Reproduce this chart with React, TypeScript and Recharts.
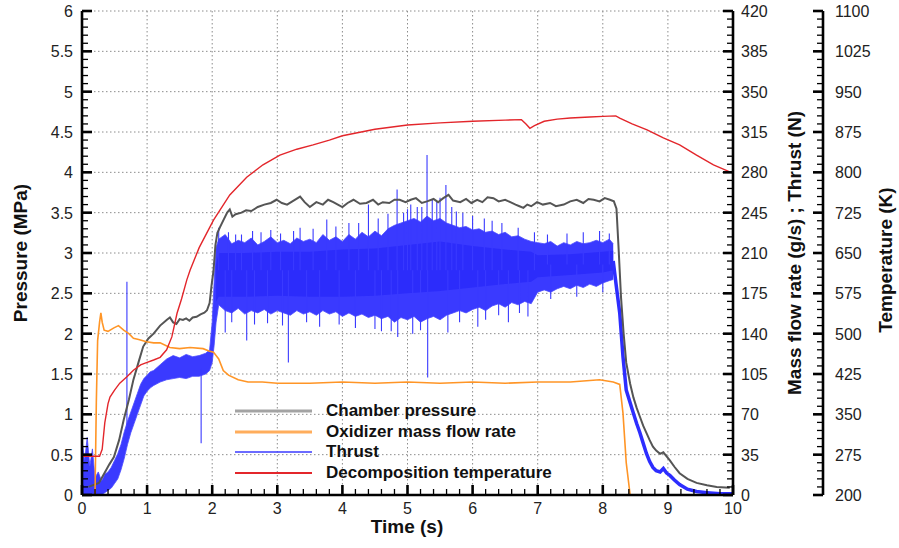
import React from 'react'
import { Area, CartesianGrid, ComposedChart, Line, XAxis, YAxis } from 'recharts'

// tick labels
const timeMajor = [0, 1, 2, 3, 4, 5, 6, 7, 8, 9, 10]
const pressureMajor = [0, 0.5, 1, 1.5, 2, 2.5, 3, 3.5, 4, 4.5, 5, 5.5, 6]
const flowMajor = [0, 35, 70, 105, 140, 175, 210, 245, 280, 315, 350, 385, 420]
const tempMajor = [200, 275, 350, 425, 500, 575, 650, 725, 800, 875, 950, 1025, 1100]

// chamber pressure (MPa)
const pressureTime = [0.1, 0.26, 0.35, 0.42, 0.49, 0.57, 0.64, 0.72, 0.79, 0.87, 0.94, 1.02, 1.1, 1.2, 1.3, 1.35, 1.4, 1.45, 1.5, 1.55, 1.6, 1.65, 1.7, 1.76, 1.82, 1.88, 1.92, 1.96, 1.99, 2.02, 2.05, 2.08, 2.12, 2.18, 2.23, 2.27, 2.31, 2.36, 2.45, 2.52, 2.6, 2.7, 2.8, 2.9, 2.99, 3.07, 3.15, 3.25, 3.35, 3.42, 3.5, 3.6, 3.7, 3.78, 3.86, 3.93, 4.0, 4.08, 4.17, 4.27, 4.37, 4.47, 4.55, 4.62, 4.72, 4.8, 4.88, 4.97, 5.05, 5.13, 5.22, 5.3, 5.4, 5.47, 5.55, 5.63, 5.7, 5.81, 5.9, 5.98, 6.07, 6.15, 6.23, 6.32, 6.4, 6.5, 6.58, 6.66, 6.72, 6.78, 6.84, 6.9, 6.99, 7.08, 7.19, 7.28, 7.4, 7.5, 7.6, 7.7, 7.78, 7.86, 7.95, 8.03, 8.11, 8.17, 8.21, 8.24, 8.28, 8.32, 8.36, 8.42, 8.47, 8.52, 8.57, 8.62, 8.67, 8.72, 8.77, 8.82, 8.88, 8.93, 8.98, 9.03, 9.1, 9.18, 9.3, 9.44, 9.6, 9.75, 9.95]
const pressureValue = [0.1, 0.15, 0.28, 0.38, 0.47, 0.68, 0.93, 1.18, 1.43, 1.65, 1.84, 1.94, 2.0, 2.1, 2.17, 2.2, 2.14, 2.12, 2.18, 2.17, 2.19, 2.16, 2.2, 2.21, 2.24, 2.26, 2.29, 2.38, 2.6, 2.78, 3.1, 3.25, 3.32, 3.42, 3.5, 3.54, 3.45, 3.48, 3.5, 3.53, 3.52, 3.57, 3.6, 3.62, 3.66, 3.62, 3.6, 3.65, 3.7, 3.63, 3.57, 3.63, 3.6, 3.66, 3.63, 3.6, 3.57, 3.62, 3.66, 3.61, 3.62, 3.66, 3.6, 3.63, 3.62, 3.66, 3.66, 3.63, 3.66, 3.68, 3.62, 3.64, 3.67, 3.63, 3.68, 3.72, 3.65, 3.63, 3.67, 3.62, 3.66, 3.63, 3.69, 3.68, 3.64, 3.66, 3.63, 3.6, 3.58, 3.56, 3.6, 3.58, 3.63, 3.6, 3.62, 3.58, 3.6, 3.64, 3.66, 3.62, 3.67, 3.66, 3.64, 3.68, 3.66, 3.64, 3.55, 3.1, 2.45, 2.0, 1.64, 1.38, 1.21, 1.08, 0.97, 0.86, 0.77, 0.68, 0.6, 0.55, 0.51, 0.53, 0.48, 0.43, 0.35, 0.27, 0.2, 0.15, 0.12, 0.1, 0.09]

// oxidizer mass flow rate (g/s)
const flowTime = [0, 0.2, 0.22, 0.24, 0.27, 0.29, 0.31, 0.34, 0.4, 0.49, 0.56, 0.64, 0.72, 0.79, 0.87, 0.99, 1.1, 1.2, 1.35, 1.5, 1.66, 1.86, 1.95, 2.02, 2.1, 2.17, 2.25, 2.4, 2.55, 2.77, 3.0, 3.5, 4.0, 4.5, 5.0, 5.5, 6.0, 6.5, 7.0, 7.5, 7.95, 8.16, 8.26, 8.31, 8.36, 8.42, 10]
const flowValue = [0, 0, 80, 134, 150, 158, 150, 143, 142, 145, 147, 143, 140, 136, 135, 133, 132, 132, 128, 127, 128, 127, 125, 124, 118, 108, 104, 100, 98, 98, 97, 97, 98, 97, 98, 97, 98, 97, 98, 98, 100, 98, 96, 71, 28, 0, 0]

// decomposition temperature (K)
const tempTime = [0, 0.27, 0.31, 0.35, 0.4, 0.43, 0.5, 0.58, 0.69, 0.79, 0.9, 0.99, 1.1, 1.2, 1.3, 1.38, 1.46, 1.53, 1.61, 1.66, 1.8, 2.02, 2.27, 2.53, 2.78, 3.04, 3.3, 3.55, 3.8, 4.0, 4.5, 5.0, 5.5, 6.0, 6.5, 6.75, 6.82, 6.88, 6.95, 7.1, 7.3, 7.5, 7.8, 8.0, 8.2, 8.26, 8.45, 8.68, 8.93, 9.18, 9.44, 9.7, 9.95, 10]
const tempValue = [272, 272, 285, 334, 370, 382, 395, 408, 420, 432, 442, 446, 451, 456, 470, 494, 538, 565, 600, 618, 660, 711, 758, 791, 814, 832, 843, 851, 860, 868, 880, 888, 892, 895, 897, 898, 890, 882, 887, 895, 899, 901, 903, 904, 905, 901, 890, 879, 864, 851, 832, 814, 801, 799]

// thrust (N): noisy band, read as low / high envelope
const thrustTime = [0, 0.04, 0.08, 0.12, 0.16, 0.2, 0.25, 0.3, 0.35, 0.4, 0.45, 0.5, 0.55, 0.6, 0.65, 0.7, 0.75, 0.8, 0.85, 0.9, 0.95, 1.0, 1.05, 1.1, 1.2, 1.3, 1.4, 1.5, 1.6, 1.7, 1.8, 1.9, 1.96, 2.0, 2.03, 2.06, 2.1, 2.2, 2.3, 2.4, 2.5, 2.6, 2.7, 2.8, 2.9, 3.0, 3.1, 3.2, 3.3, 3.4, 3.5, 3.6, 3.7, 3.8, 3.9, 4.0, 4.1, 4.2, 4.3, 4.4, 4.5, 4.6, 4.7, 4.8, 4.9, 5.0, 5.1, 5.2, 5.3, 5.4, 5.5, 5.6, 5.7, 5.8, 5.9, 6.0, 6.1, 6.2, 6.3, 6.4, 6.5, 6.6, 6.7, 6.8, 6.9, 7.0, 7.1, 7.2, 7.3, 7.4, 7.5, 7.6, 7.7, 7.8, 7.9, 8.0, 8.1, 8.16]
const thrustLow = [0, 0, 0, 0, 0, 0, 0, 0, 2, 4, 6, 10, 14, 22, 32, 44, 54, 62, 70, 78, 86, 90, 93, 95, 98, 100, 101, 102, 101, 103, 103, 105, 108, 115, 130, 150, 165, 160, 158, 162, 157, 160, 158, 161, 157, 160, 158, 156, 160, 157, 159, 156, 160, 157, 159, 155, 158, 155, 157, 154, 156, 153, 155, 150, 154, 152, 155, 150, 153, 155, 152, 156, 158, 160, 158, 161, 163, 160, 164, 166, 163, 167, 165, 168, 166, 176, 178, 176, 179, 181, 179, 182, 180, 183, 181, 184, 186, 187]
const thrustHigh = [48, 30, 50, 25, 40, 15, 20, 12, 18, 20, 24, 30, 36, 44, 55, 64, 72, 80, 88, 96, 101, 104, 107, 108, 113, 118, 121, 119, 122, 120, 121, 123, 126, 150, 185, 215, 222, 226, 218, 221, 219, 223, 217, 220, 224, 219, 221, 218, 223, 220, 222, 219, 226, 221, 224, 220, 226, 222, 228, 224, 229, 225, 231, 234, 236, 238, 240, 237, 242, 238, 240, 236, 234, 232, 233, 230, 231, 228, 229, 226, 228, 224, 225, 222, 220, 219, 218, 220, 216, 219, 217, 220, 218, 219, 221, 219, 222, 218]

// thrust dense core
const coreTime = [2.06, 2.1, 2.5, 3.0, 3.5, 4.0, 4.5, 5.0, 5.5, 6.0, 6.5, 6.9, 7.0, 7.5, 8.0, 8.16]
const coreLow = [168, 172, 172, 173, 172, 172, 173, 175, 177, 180, 183, 185, 189, 191, 193, 195]
const coreHigh = [200, 210, 210, 211, 211, 213, 214, 217, 220, 216, 213, 211, 208, 209, 211, 212]

// thrust isolated spikes: time, level they leave from, extreme value
const spikeTime = [0.69, 1.83, 2.1, 2.2, 2.25, 2.3, 2.36, 2.45, 2.53, 2.62, 2.65, 2.75, 2.85, 2.9, 3.05, 3.08, 3.17, 3.25, 3.35, 3.45, 3.55, 3.65, 3.76, 3.9, 3.95, 4.1, 4.2, 4.25, 4.4, 4.5, 4.55, 4.6, 4.7, 4.75, 4.84, 4.85, 4.94, 5.0, 5.05, 5.08, 5.15, 5.2, 5.22, 5.3, 5.31, 5.38, 5.45, 5.5, 5.59, 5.62, 5.68, 5.75, 5.8, 5.85, 6.0, 6.08, 6.18, 6.2, 6.3, 6.4, 6.45, 6.55, 6.7, 6.72, 6.85, 6.95, 7.15, 7.2, 7.45, 7.6, 7.7, 7.95, 8.0, 8.1]
const spikeBase = [60, 110, 195, 195, 195, 195, 195, 195, 195, 195, 195, 195, 195, 195, 195, 195, 195, 195, 195, 195, 195, 195, 195, 195, 195, 195, 195, 195, 195, 195, 195, 195, 195, 195, 195, 195, 195, 195, 195, 195, 195, 195, 195, 195, 195, 195, 195, 195, 195, 195, 195, 195, 195, 195, 195, 195, 195, 195, 195, 195, 195, 195, 195, 195, 195, 195, 200, 200, 200, 200, 200, 200, 200, 200]
const spikePeak = [185, 45, 232, 141, 228, 150, 226, 226, 134, 229, 148, 228, 149, 230, 227, 147, 115, 229, 232, 150, 231, 146, 239, 233, 148, 236, 145, 236, 252, 144, 240, 142, 244, 142, 265, 137, 245, 248, 252, 140, 250, 143, 250, 295, 102, 256, 255, 258, 269, 141, 250, 246, 150, 245, 242, 146, 240, 152, 238, 156, 236, 150, 232, 158, 155, 228, 226, 170, 227, 172, 228, 229, 176, 227]

// thrust tail after shutdown
const tailTime = [8.16, 8.21, 8.26, 8.31, 8.36, 8.42, 8.47, 8.52, 8.57, 8.62, 8.67, 8.72, 8.77, 8.82, 8.88, 8.93, 8.98, 9.03, 9.1, 9.18, 9.3, 9.44, 9.6, 9.8, 10]
const tailValue = [203, 180, 158, 120, 91, 80, 71, 62, 54, 45, 36, 29, 24, 21, 20, 23, 19, 17, 13, 9, 5, 3, 2, 1, 1]

const legendItems = [
  { name: 'Chamber pressure', color: '#a3a3a3', width: 3 },
  { name: 'Oxidizer mass flow rate', color: '#ffad5c', width: 3 },
  { name: 'Thrust', color: '#3a3aff', width: 1.5 },
  { name: 'Decomposition temperature', color: '#e3262b', width: 2 }
]

const FONT = '"Liberation Sans", Arial, sans-serif'

const steps = (from: number, to: number, step: number) => {
  const out: number[] = []
  for (let v = from; v <= to + step / 2; v += step) out.push(Math.round(v * 1e6) / 1e6)
  return out
}
const isMajor = (v: number, majors: number[]) => majors.some((m) => Math.abs(m - v) < 1e-6)

const pressureData = pressureTime.map((t, i) => ({ t, v: pressureValue[i] }))
const flowData = flowTime.map((t, i) => ({ t, v: flowValue[i] }))
const tempData = tempTime.map((t, i) => ({ t, v: tempValue[i] }))
const bandData = thrustTime.map((t, i) => ({ t, r: [thrustLow[i], thrustHigh[i]] }))
const coreData = coreTime.map((t, i) => ({ t, r: [coreLow[i], coreHigh[i]] }))
const spikeData = spikeTime.flatMap((t, i) => [
  { t, v: spikeBase[i] },
  { t, v: spikePeak[i] },
  { t, v: null }
])
const tailData = tailTime.map((t, i) => ({ t, v: tailValue[i] }))

function AxisTick(props: any) {
  const { x, y, payload, side, majors } = props
  const v = payload.value
  const major = isMajor(v, majors)
  const len = major ? 10 : 6
  const sw = major ? 2.6 : 1.3
  const label = String(v)
  const txt = { fontSize: 16, fill: '#222', fontFamily: FONT }
  if (side === 'bottom') {
    return (
      <g>
        <line x1={x} x2={x} y1={y} y2={y - len} stroke="#000" strokeWidth={sw} />
        {major && <text x={x} y={y + 19} textAnchor="middle" {...txt}>{label}</text>}
      </g>
    )
  }
  if (side === 'left') {
    return (
      <g>
        <line x1={x} x2={x + len} y1={y} y2={y} stroke="#000" strokeWidth={sw} />
        {major && <text x={x - 9} y={y + 6} textAnchor="end" {...txt}>{label}</text>}
      </g>
    )
  }
  return (
    <g>
      <line x1={x} x2={x - len} y1={y} y2={y} stroke="#000" strokeWidth={sw} />
      {major && <text x={x + (side === 'temp' ? 12 : 8)} y={y + 6} textAnchor="start" {...txt}>{label}</text>}
    </g>
  )
}

const titleStyle: React.CSSProperties = {
  position: 'absolute',
  fontFamily: FONT,
  fontWeight: 'bold',
  fontSize: 19,
  color: '#111',
  whiteSpace: 'nowrap',
  transform: 'translate(-50%, -50%)'
}

export default function App() {
  return (
    <div style={{ position: 'absolute', left: 0, top: 0, width: 899, height: 548, background: '#fff' }}>
      <ComposedChart width={899} height={548} margin={{ top: 11, right: 0, bottom: 0, left: 0 }}>
        <CartesianGrid
          yAxisId="p"
          stroke="#8c8c8c"
          strokeDasharray="1.5 2.5"
          verticalValues={timeMajor}
          horizontalValues={pressureMajor}
        />
        <XAxis
          dataKey="t"
          type="number"
          domain={[0, 10]}
          ticks={steps(0, 10, 0.2)}
          interval={0}
          height={53}
          tickSize={0}
          tickMargin={0}
          allowDataOverflow
          axisLine={{ stroke: '#000', strokeWidth: 2.6 }}
          tick={(p: any) => <AxisTick {...p} side="bottom" majors={timeMajor} />}
        />
        <YAxis
          yAxisId="p"
          domain={[0, 6]}
          ticks={steps(0, 6, 0.1)}
          interval={0}
          width={82}
          tickSize={0}
          tickMargin={0}
          allowDataOverflow
          axisLine={{ stroke: '#000', strokeWidth: 2.6 }}
          tick={(p: any) => <AxisTick {...p} side="left" majors={pressureMajor} />}
        />
        <YAxis
          yAxisId="f"
          orientation="right"
          domain={[0, 420]}
          ticks={steps(0, 420, 7)}
          interval={0}
          width={90}
          tickSize={0}
          tickMargin={0}
          allowDataOverflow
          axisLine={{ stroke: '#000', strokeWidth: 2.6 }}
          tick={(p: any) => <AxisTick {...p} side="right" majors={flowMajor} />}
        />
        <YAxis
          yAxisId="k"
          orientation="right"
          domain={[200, 1100]}
          ticks={steps(200, 1100, 15)}
          interval={0}
          width={76}
          tickSize={0}
          tickMargin={0}
          allowDataOverflow
          axisLine={{ stroke: '#000', strokeWidth: 2.6 }}
          tick={(p: any) => <AxisTick {...p} side="temp" majors={tempMajor} />}
        />
        <Area
          yAxisId="f"
          data={bandData}
          dataKey="r"
          type="linear"
          stroke="#4a4aff"
          strokeWidth={0.8}
          fill="#3a3aff"
          fillOpacity={1}
          isAnimationActive={false}
        />
        <Area
          yAxisId="f"
          data={coreData}
          dataKey="r"
          type="linear"
          stroke="none"
          fill="#2c2cfb"
          fillOpacity={1}
          isAnimationActive={false}
        />
        <Line
          yAxisId="f"
          data={spikeData}
          dataKey="v"
          type="linear"
          stroke="#3a3aff"
          strokeWidth={1.1}
          dot={false}
          connectNulls={false}
          isAnimationActive={false}
        />
        <Line
          yAxisId="f"
          data={tailData}
          dataKey="v"
          type="linear"
          stroke="#2d2dff"
          strokeWidth={3.5}
          dot={false}
          isAnimationActive={false}
        />
        <Line
          yAxisId="p"
          data={pressureData}
          dataKey="v"
          type="linear"
          stroke="#555555"
          strokeWidth={2}
          dot={false}
          isAnimationActive={false}
        />
        <Line
          yAxisId="f"
          data={flowData}
          dataKey="v"
          type="linear"
          stroke="#ff9526"
          strokeWidth={1.6}
          dot={false}
          isAnimationActive={false}
        />
        <Line
          yAxisId="k"
          data={tempData}
          dataKey="v"
          type="linear"
          stroke="#e3262b"
          strokeWidth={1.4}
          dot={false}
          isAnimationActive={false}
        />
      </ComposedChart>

      <div style={{ ...titleStyle, left: 21, top: 253, transform: 'translate(-50%, -50%) rotate(-90deg)' }}>Pressure (MPa)</div>
      <div style={{ ...titleStyle, left: 407, top: 527 }}>Time (s)</div>
      <div style={{ ...titleStyle, left: 795, top: 253, transform: 'translate(-50%, -50%) rotate(-90deg)' }}>
        Mass flow rate (g/s) ; Thrust (N)
      </div>
      <div style={{ ...titleStyle, left: 886, top: 260, transform: 'translate(-50%, -50%) rotate(-90deg)' }}>Temperature (K)</div>

      <div style={{ position: 'absolute', left: 235, top: 401 }}>
        {legendItems.map((it) => (
          <div key={it.name} style={{ display: 'flex', alignItems: 'center', height: 20.5 }}>
            <svg width={77} height={20}>
              <line x1={0} x2={77} y1={10} y2={10} stroke={it.color} strokeWidth={it.width} />
            </svg>
            <span style={{ marginLeft: 14, fontFamily: FONT, fontWeight: 'bold', fontSize: 17, color: '#111', whiteSpace: 'nowrap' }}>
              {it.name}
            </span>
          </div>
        ))}
      </div>
    </div>
  )
}
